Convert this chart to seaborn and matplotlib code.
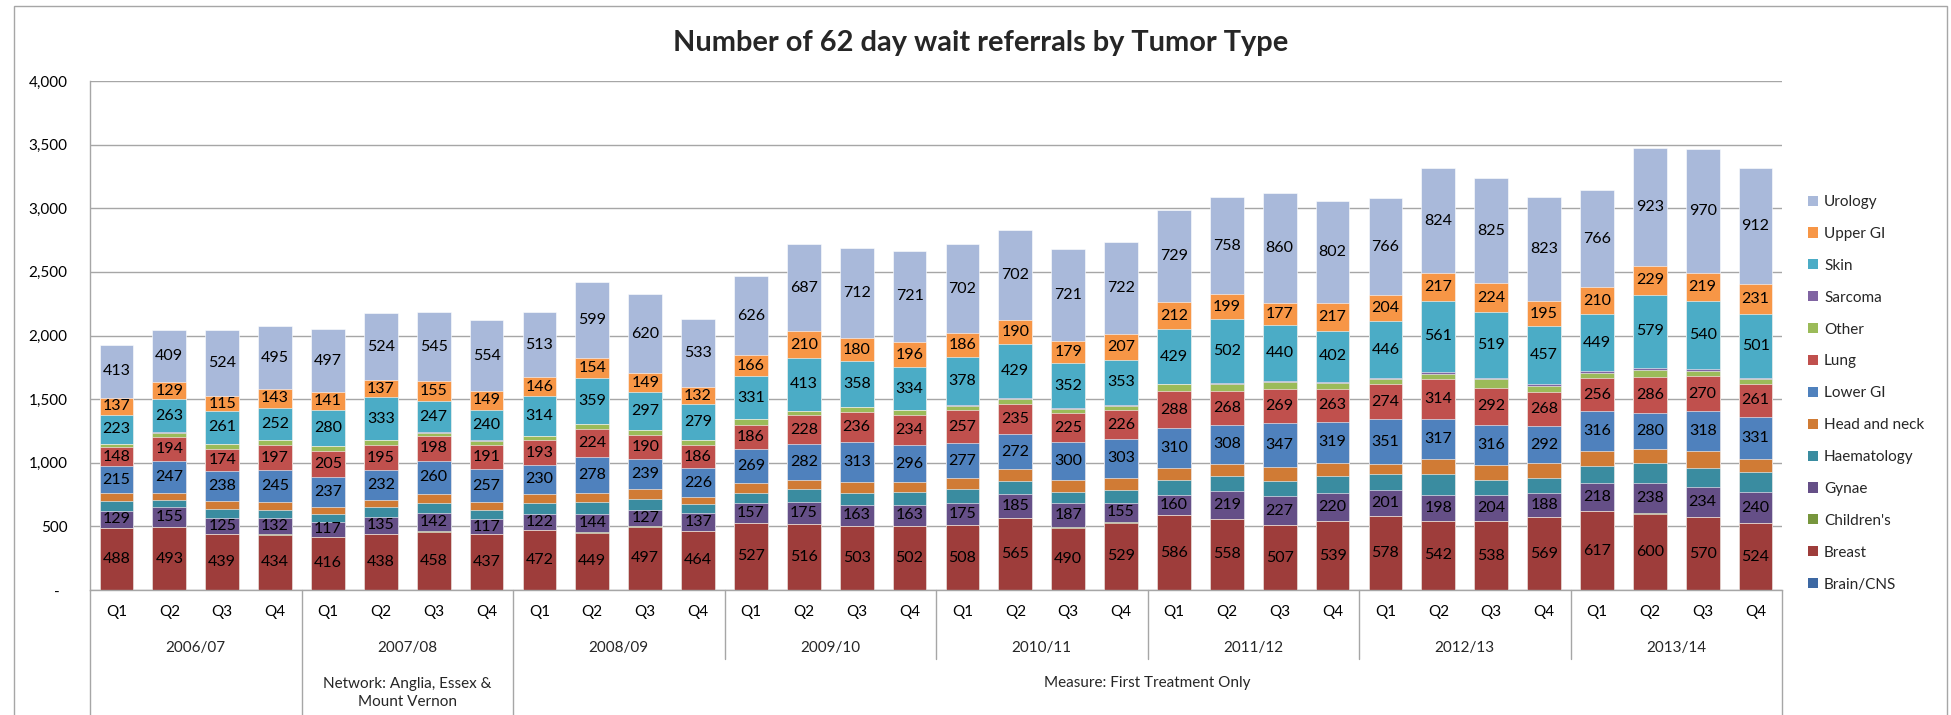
import numpy as np
import pandas as pd
import matplotlib
matplotlib.use("Agg")
import matplotlib.pyplot as plt
import seaborn as sns
import matplotlib.transforms as mtransforms
from matplotlib.patches import Rectangle, Patch
from matplotlib.lines import Line2D

# ---------------- data ----------------
years = ["2006/07", "2007/08", "2008/09", "2009/10", "2010/11", "2011/12", "2012/13", "2013/14"]
quarters = ["Q1", "Q2", "Q3", "Q4"]

brain_cns = [1, 1, 1, 1, 1, 1, 1, 1, 1, 1, 1, 1, 1, 1, 1, 1, 1, 1, 1, 1, 1, 1, 1, 1, 1, 1, 1, 1, 1, 1, 1, 1]
breast = [488, 493, 439, 434, 416, 438, 458, 437, 472, 449, 497, 464, 527, 516, 503, 502,
          508, 565, 490, 529, 586, 558, 507, 539, 578, 542, 538, 569, 617, 600, 570, 524]
childrens = [2, 2, 2, 2, 2, 2, 2, 2, 2, 2, 2, 2, 2, 2, 2, 2, 2, 2, 2, 2, 2, 2, 2, 2, 2, 2, 2, 2, 2, 2, 2, 2]
gynae = [129, 155, 125, 132, 117, 135, 142, 117, 122, 144, 127, 137, 157, 175, 163, 163,
         175, 185, 187, 155, 160, 219, 227, 220, 201, 198, 204, 188, 218, 238, 234, 240]
haematology = [81, 55, 71, 63, 63, 79, 79, 73, 84, 97, 92, 71, 79, 97, 97, 102,
               107, 105, 92, 102, 113, 118, 123, 136, 128, 168, 123, 123, 139, 155, 152, 160]
head_neck = [58, 58, 60, 63, 50, 55, 73, 60, 73, 73, 71, 55, 73, 71, 86, 76,
             84, 94, 92, 94, 100, 92, 105, 102, 81, 115, 115, 113, 115, 115, 131, 102]
lower_gi = [215, 247, 238, 245, 237, 232, 260, 257, 230, 278, 239, 226, 269, 282, 313, 296,
            277, 272, 300, 303, 310, 308, 347, 319, 351, 317, 316, 292, 316, 280, 318, 331]
lung = [148, 194, 174, 197, 205, 195, 198, 191, 193, 224, 190, 186, 186, 228, 236, 234,
        257, 235, 225, 226, 288, 268, 269, 263, 274, 314, 292, 268, 256, 286, 270, 261]
other = [26, 31, 34, 42, 40, 40, 20, 35, 32, 37, 35, 37, 50, 35, 37, 37,
         35, 43, 32, 35, 55, 50, 52, 45, 42, 40, 65, 48, 45, 50, 45, 40]
sarcoma = [3, 3, 3, 3, 3, 3, 5, 3, 3, 3, 3, 3, 3, 3, 3, 3,
           8, 3, 8, 8, 5, 10, 8, 8, 8, 15, 10, 13, 10, 15, 12, 8]
skin = [223, 263, 261, 252, 280, 333, 247, 240, 314, 359, 297, 279, 331, 413, 358, 334,
        378, 429, 352, 353, 429, 502, 440, 402, 446, 561, 519, 457, 449, 579, 540, 501]
upper_gi = [137, 129, 115, 143, 141, 137, 155, 149, 146, 154, 149, 132, 166, 210, 180, 196,
            186, 190, 179, 207, 212, 199, 177, 217, 204, 217, 224, 195, 210, 229, 219, 231]
urology = [413, 409, 524, 495, 497, 524, 545, 554, 513, 599, 620, 533, 626, 687, 712, 721,
           702, 702, 721, 722, 729, 758, 860, 802, 766, 824, 825, 823, 766, 923, 970, 912]

series_names = ["Brain/CNS", "Breast", "Children's", "Gynae", "Haematology", "Head and neck",
                "Lower GI", "Lung", "Other", "Sarcoma", "Skin", "Upper GI", "Urology"]
series_values = [brain_cns, breast, childrens, gynae, haematology, head_neck,
                 lower_gi, lung, other, sarcoma, skin, upper_gi, urology]
labelled = {"Breast", "Gynae", "Lower GI", "Lung", "Skin", "Upper GI", "Urology"}

colors = ["#3D68A3", "#9E3D3B", "#77963D", "#654F87", "#3A8CA0", "#D07B35",
          "#4F81BD", "#C0504D", "#9BBB59", "#8064A2", "#4BACC6", "#F79646", "#A9B9DA"]

title = "Number of 62 day wait referrals by Tumor Type"
network_note = "Network: Anglia, Essex &\nMount Vernon"
measure_note = "Measure: First Treatment Only"

# ---------------- frame ----------------
periods = [f"{y} {q}" for y in years for q in quarters]
q_labels = [q for y in years for q in quarters]
n = len(periods)

W, H = 1951, 715
fig = plt.figure(figsize=(W / 100, H / 100), dpi=100)
sns.set_style("white")
plt.rcParams["font.family"] = ["Lato", "DejaVu Sans"]

ax = fig.add_axes([90 / W, 1 - 590 / H, (1782 - 90) / W, (590 - 81) / H])

vals = np.array(series_values, dtype=float)
cum = np.cumsum(vals, axis=0)

df = pd.DataFrame({"period": periods})
for i in reversed(range(len(series_names))):
    df["h"] = cum[i]
    sns.barplot(data=df, x="period", y="h", order=periods, color=colors[i],
                saturation=1, width=0.64, errorbar=None, ax=ax,
                edgecolor="#FFFFFF", linewidth=0.4)

# data labels
for i, name in enumerate(series_names):
    if name not in labelled:
        continue
    for j in range(n):
        v = vals[i, j]
        ax.text(j, cum[i, j] - v / 2, f"{int(v)}", ha="center", va="center",
                fontsize=11.5, color="black")

ax.set_xlim(-0.5, n - 0.5)
ax.set_ylim(0, 4000)
ax.set_yticks(np.arange(0, 4001, 500))
ax.set_yticklabels(["-  "] + [f"{int(v):,}" for v in np.arange(500, 4001, 500)])
ax.set_xticks(range(n))
ax.set_xticklabels(q_labels)
ax.set_xlabel("")
ax.set_ylabel("")
ax.tick_params(axis="both", length=0, labelsize=11, colors="#000000")
ax.tick_params(axis="y", pad=16)
ax.tick_params(axis="x", pad=11)
ax.yaxis.grid(True, color="#A6A6A6", linewidth=1)
ax.set_axisbelow(True)
for s in ["top", "right"]:
    ax.spines[s].set_visible(False)
for s in ["left", "bottom"]:
    ax.spines[s].set_color("#A6A6A6")
    ax.spines[s].set_linewidth(1)

# multi-level category axis
bt = mtransforms.blended_transform_factory(ax.transData, fig.transFigure)
def fy(px):
    return 1 - px / H

for k in range(1, len(years)):
    x = 4 * k - 0.5
    bottom = 715 if k in (1, 2) else 659
    fig.add_artist(Line2D([x, x], [fy(590), fy(bottom)], transform=bt, color="#A6A6A6", lw=1))
for x in (-0.5, n - 0.5):
    fig.add_artist(Line2D([x, x], [fy(590), fy(716)], transform=bt, color="#A6A6A6", lw=1))

for k, y in enumerate(years):
    fig.text(4 * k + 1.5, fy(648), y, transform=bt, ha="center", va="center", fontsize=11)
fig.text(5.5, fy(693), network_note, transform=bt, ha="center", va="center",
         fontsize=11, linespacing=1.35)
fig.text((7.5 + n - 0.5) / 2, fy(683), measure_note, transform=bt, ha="center",
         va="center", fontsize=11)

# title
t = fig.text(981 / W, fy(43), title, ha="center", va="center", fontsize=20,
             fontweight="bold")
fig.canvas.draw()
tw = t.get_window_extent().width
t.set_fontsize(20 * 615 / tw)

# legend (top entry first, as in reference)
handles = [Patch(facecolor=colors[i], edgecolor="none") for i in reversed(range(len(series_names)))]
labels = list(reversed(series_names))
fig.legend(handles, labels, loc="upper left", bbox_to_anchor=(1808 / W, fy(195)),
           frameon=False, fontsize=11, handlelength=0.65, handleheight=0.65,
           handletextpad=0.4, labelspacing=1.17, borderpad=0, borderaxespad=0)

# outer chart border
fig.add_artist(Rectangle((14 / W, fy(760)), (1947 - 14) / W, (760 - 6) / H,
                         transform=fig.transFigure, fill=False, edgecolor="#A6A6A6", lw=1))

fig.savefig("out.png", dpi=100)
